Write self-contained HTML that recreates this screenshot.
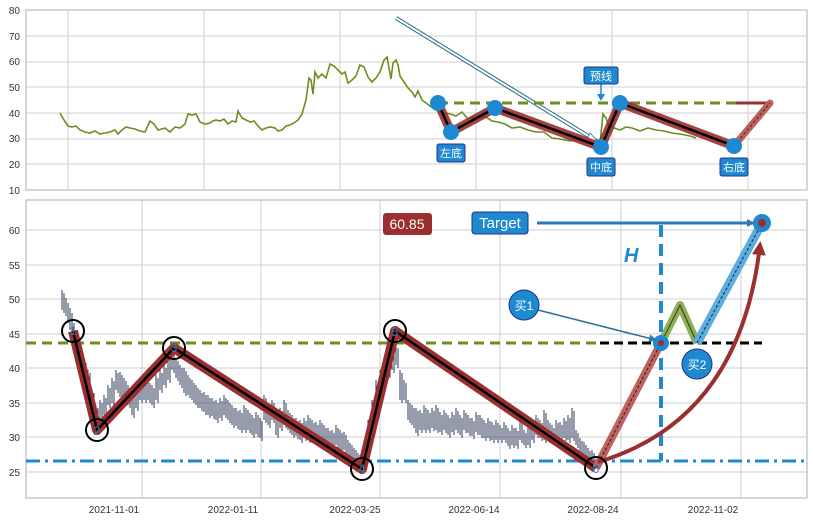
<!DOCTYPE html><html><head><meta charset="utf-8"><style>
body{margin:0;background:#fff;font-family:"Liberation Sans","Noto Sans CJK SC",sans-serif}
svg text{font-family:"Liberation Sans","Noto Sans CJK SC",sans-serif}
</style></head><body>
<svg width="813" height="522" viewBox="0 0 813 522" xmlns="http://www.w3.org/2000/svg">
<defs>
<marker id="ab" markerWidth="8" markerHeight="8" refX="7" refY="4" orient="auto" markerUnits="userSpaceOnUse"><path d="M0,0 L8,4 L0,8 z" fill="#2a7ab8"/></marker>
<marker id="ar" markerWidth="14" markerHeight="14" refX="10" refY="7" orient="auto" markerUnits="userSpaceOnUse"><path d="M0,0 L14,7 L0,14 z" fill="#9b2f2f"/></marker>
</defs>
<rect width="813" height="522" fill="#fff"/>
<!-- top panel -->
<g stroke="#cfcfcf" stroke-width="1">
<line x1="26" y1="36" x2="807" y2="36"/><line x1="26" y1="62" x2="807" y2="62"/><line x1="26" y1="87" x2="807" y2="87"/><line x1="26" y1="113" x2="807" y2="113"/><line x1="26" y1="139" x2="807" y2="139"/><line x1="26" y1="164" x2="807" y2="164"/>
<line x1="68" y1="10" x2="68" y2="190"/><line x1="204" y1="10" x2="204" y2="190"/><line x1="340" y1="10" x2="340" y2="190"/><line x1="476" y1="10" x2="476" y2="190"/><line x1="612" y1="10" x2="612" y2="190"/><line x1="748" y1="10" x2="748" y2="190"/>
</g>
<rect x="26" y="10" width="781" height="180" fill="none" stroke="#c8c8c8" stroke-width="1.5"/>
<g font-size="10" fill="#333" text-anchor="end">
<text x="20" y="14">80</text><text x="20" y="40">70</text><text x="20" y="65">60</text><text x="20" y="91">50</text><text x="20" y="117">40</text><text x="20" y="142">30</text><text x="20" y="168">20</text><text x="20" y="194">10</text></g>
<polyline fill="none" stroke="#6b8e23" stroke-width="1.6" points="60,113 64,120 68,126 72,127 76,126 80,130 85,132 90,133 95,131 100,134 105,133 110,132 115,130 118,134 122,130 126,127 130,128 135,129 140,131 145,132 150,121 154,124 158,130 162,129 165,128 170,132 175,127 180,128 185,124 188,114 192,115 196,114 200,122 205,124 210,123 213,121 216,120 220,121 224,119 228,124 232,121 236,122 238,111 242,118 246,120 250,122 254,121 258,126 262,130 266,128 270,127 275,128 278,131 282,130 286,126 290,125 294,123 298,120 302,114 306,100 309,78 311,80 313,94 315,72 318,78 322,74 326,78 330,64 334,66 338,70 342,74 345,72 348,83 352,80 356,76 360,65 364,67 368,77 372,82 376,78 380,72 384,60 387,57 389,68 391,79 393,63 396,60 398,65 400,76 404,82 408,88 412,92 415,97 418,91 422,100 426,103 430,106 436,110 442,112 450,114 456,116 462,112 468,119 474,117 480,118 486,117 492,121 498,122 505,124 512,128 520,127 528,130 536,132 544,132 552,138 560,139 570,141 578,140 586,143 594,144 600,143 603,114 606,118 609,126 614,128 620,130 626,127 632,128 640,131 648,128 656,130 664,131 672,133 680,134 690,136 696,138"/>
<line x1="396" y1="18" x2="598" y2="142" stroke="#2a6f8a" stroke-width="4"/>
<line x1="396" y1="18" x2="598" y2="142" stroke="#fff" stroke-width="2"/>
<path d="M590,133 L600,144 L586,141 z" fill="#fff" stroke="#2a6f8a" stroke-width="0.8"/>
<line x1="438" y1="103" x2="736" y2="103" stroke="#6b8e23" stroke-width="3" stroke-dasharray="10,6"/>
<line x1="736" y1="103" x2="770" y2="103" stroke="#9b2f2f" stroke-width="3"/>
<polyline fill="none" stroke="#9b2f2f" stroke-opacity="0.9" stroke-width="9" stroke-linejoin="round" points="438,103 451,132 495,108 601,147 620,103 734,146"/>
<polyline fill="none" stroke="#000" stroke-width="2.5" points="438,103 451,132 495,108 601,147 620,103 734,146"/>
<line x1="734" y1="146" x2="770" y2="103" stroke="#c06060" stroke-width="7" stroke-linecap="round"/>
<line x1="734" y1="146" x2="770" y2="103" stroke="#333" stroke-width="1" stroke-dasharray="3,2"/>
<g fill="#1e88d0"><circle cx="438" cy="103" r="8"/><circle cx="451" cy="132" r="8"/><circle cx="495" cy="108" r="8"/><circle cx="601" cy="147" r="8"/><circle cx="620" cy="103" r="8"/><circle cx="734" cy="146" r="8"/></g>
<line x1="601" y1="84" x2="601" y2="98" stroke="#1e88d0" stroke-width="1.5"/><path d="M597,94 L601,101 L605,94z" fill="#1e88d0"/>
<g font-size="11" fill="#fff" text-anchor="middle">
<rect x="437" y="144" width="28" height="18" rx="2" fill="#1e88d0" stroke="#223388"/><text x="451" y="157">左底</text>
<rect x="587" y="158" width="28" height="18" rx="2" fill="#1e88d0" stroke="#223388"/><text x="601" y="171">中底</text>
<rect x="720" y="158" width="28" height="18" rx="2" fill="#1e88d0" stroke="#223388"/><text x="734" y="171">右底</text>
<rect x="584" y="67" width="34" height="17" rx="2" fill="#1e88d0" stroke="#223388"/><text x="601" y="80">预线</text>
</g>
<!-- bottom panel -->
<g stroke="#cfcfcf" stroke-width="1">
<line x1="26" y1="230" x2="807" y2="230"/><line x1="26" y1="265" x2="807" y2="265"/><line x1="26" y1="299" x2="807" y2="299"/><line x1="26" y1="334" x2="807" y2="334"/><line x1="26" y1="368" x2="807" y2="368"/><line x1="26" y1="403" x2="807" y2="403"/><line x1="26" y1="437" x2="807" y2="437"/><line x1="26" y1="472" x2="807" y2="472"/>
<line x1="142" y1="200" x2="142" y2="498"/><line x1="261" y1="200" x2="261" y2="498"/><line x1="380" y1="200" x2="380" y2="498"/><line x1="500" y1="200" x2="500" y2="498"/><line x1="621" y1="200" x2="621" y2="498"/><line x1="741" y1="200" x2="741" y2="498"/>
</g>
<rect x="26" y="200" width="781" height="298" fill="none" stroke="#c8c8c8" stroke-width="1.5"/>
<g font-size="10" fill="#333" text-anchor="end">
<text x="20" y="234">60</text><text x="20" y="269">55</text><text x="20" y="303">50</text><text x="20" y="338">45</text><text x="20" y="372">40</text><text x="20" y="407">35</text><text x="20" y="441">30</text><text x="20" y="476">25</text></g>
<g font-size="10" fill="#333" text-anchor="middle">
<text x="114" y="513">2021-11-01</text><text x="233" y="513">2022-01-11</text><text x="355" y="513">2022-03-25</text><text x="474" y="513">2022-06-14</text><text x="593" y="513">2022-08-24</text><text x="713" y="513">2022-11-02</text></g>
<path id="cs" fill="none" stroke="#2c3a58" stroke-width="1.2" shape-rendering="crispEdges" d="M62,290v20M64,295v18M66,300v15M68,305v18M70,310v20M72,320v20M76,330v25M80,345v20M84,360v20M88,370v30M92,390v25M96,405v20M100,400v25M104,395v20M108,385v20M112,378v25M116,370v20M120,372v25M124,378v20M128,385v20M132,390v25M136,388v20M140,380v20M144,375v25M148,380v20M152,385v20M156,375v25M160,370v20M164,365v20M168,355v25M172,350v20M176,358v20M180,365v20M184,368v25M188,375v20M192,380v20M196,385v20M200,390v18M204,392v20M208,395v20M212,398v18M216,400v20M220,398v20M224,395v20M228,400v20M232,405v20M236,408v18M240,410v20M244,405v25M248,410v20M252,415v20M256,412v22M260,418v20M264,395v25M268,405v20M272,400v20M276,410v25M280,408v20M284,400v25M288,410v20M292,415v20M296,418v18M300,420v20M304,418v20M308,415v25M312,420v20M316,422v20M320,420v18M324,425v18M328,428v18M332,430v15M336,425v20M340,430v20M344,432v18M348,440v20M352,445v18M356,450v15M360,455v12M364,440v20M368,420v25M372,400v25M376,380v25M380,370v20M384,360v25M388,355v20M392,350v20M396,345v20M400,370v30M404,380v20M408,400v20M412,405v20M416,408v25M420,410v20M424,405v25M428,410v20M432,408v20M436,405v25M440,412v20M444,410v20M448,415v20M452,412v20M456,408v22M460,415v20M464,410v20M468,415v18M472,418v18M476,412v20M480,415v20M484,420v18M488,418v20M492,422v18M496,420v20M500,425v15M504,422v18M508,428v18M512,425v20M516,428v18M520,420v20M524,430v15M528,425v20M532,420v20M536,415v20M540,420v18M544,410v30M548,420v20M552,425v15M556,420v18M560,422v15M564,418v20M568,415v25M572,408v30M576,430v15M580,438v15M584,442v15M588,448v12M592,450v12"/>
<use href="#cs" transform="translate(2,3)"/>
<line x1="26" y1="343" x2="600" y2="343" stroke="#6b8e23" stroke-width="3" stroke-dasharray="10,6"/>
<line x1="600" y1="343" x2="762" y2="343" stroke="#000" stroke-width="3" stroke-dasharray="9,5"/>
<line x1="26" y1="461" x2="807" y2="461" stroke="#1e88d0" stroke-width="3" stroke-dasharray="14,5,3,5"/>
<line x1="661" y1="225" x2="661" y2="461" stroke="#1e88d0" stroke-width="4" stroke-dasharray="12,7"/>
<polyline fill="none" stroke="#9b2f2f" stroke-width="10" stroke-linejoin="round" points="73,331 97,430 174,348 362,469 395,331 596,468"/>
<polyline fill="none" stroke="#000" stroke-width="2.5" points="73,331 97,430 174,348 362,469 395,331 596,468"/>
<line x1="596" y1="468" x2="661" y2="343" stroke="#c06060" stroke-width="8"/>
<line x1="596" y1="468" x2="661" y2="343" stroke="#222" stroke-width="1" stroke-dasharray="3,2"/>
<polyline fill="none" stroke="#8fb050" stroke-width="8" stroke-linejoin="round" points="661,343 680,305 697,343"/>
<polyline fill="none" stroke="#333" stroke-width="1" points="661,343 680,305 697,343"/>
<line x1="697" y1="343" x2="762" y2="223" stroke="#5aaee0" stroke-width="9"/>
<line x1="697" y1="343" x2="762" y2="223" stroke="#222" stroke-width="1" stroke-dasharray="3,2"/>
<path d="M598,462 Q740,420 760,245" fill="none" stroke="#9b2f2f" stroke-width="4" marker-end="url(#ar)"/>
<circle cx="661" cy="343" r="8" fill="#1e88d0"/><circle cx="661" cy="343" r="3" fill="#9b2f2f"/>
<circle cx="762" cy="223" r="9" fill="#1e88d0"/><circle cx="762" cy="223" r="4" fill="#9b2f2f"/>
<g fill="#fff" stroke="#000" stroke-width="2">
<circle cx="73" cy="331" r="11" fill="none"/><circle cx="97" cy="430" r="11" fill="none"/><circle cx="174" cy="348" r="11" fill="none"/><circle cx="362" cy="469" r="11" fill="none"/><circle cx="395" cy="331" r="11" fill="none"/><circle cx="596" cy="468" r="11" fill="none"/></g>
<g font-size="12" fill="#1e88d0" text-anchor="middle">
<text x="73" y="335">1</text><text x="97" y="435">2</text><text x="174" y="352">3</text><text x="362" y="473">4</text><text x="395" y="336">5</text><text x="596" y="473">6</text></g>
<rect x="383" y="213" width="49" height="22" rx="3" fill="#9b2f2f"/>
<text x="407" y="229" font-size="14" fill="#fff" text-anchor="middle">60.85</text>
<rect x="472" y="212" width="56" height="22" rx="3" fill="#1e88d0" stroke="#223388"/>
<text x="500" y="228" font-size="15" fill="#fff" text-anchor="middle">Target</text>
<line x1="537" y1="223" x2="754" y2="223" stroke="#2a7ab8" stroke-width="3" marker-end="url(#ab)"/>
<text x="624" y="262" font-size="20" font-weight="bold" font-style="italic" fill="#1e88d0">H</text>
<line x1="538" y1="310" x2="656" y2="340" stroke="#2a6f9a" stroke-width="1.5" marker-end="url(#ab)"/>
<circle cx="524" cy="305" r="15" fill="#1e88d0" stroke="#223388"/>
<text x="524" y="310" font-size="12" fill="#fff" text-anchor="middle">买1</text>
<circle cx="697" cy="364" r="15" fill="#1e88d0" stroke="#223388"/>
<text x="697" y="369" font-size="12" fill="#fff" text-anchor="middle">买2</text>
</svg>
</body></html>
